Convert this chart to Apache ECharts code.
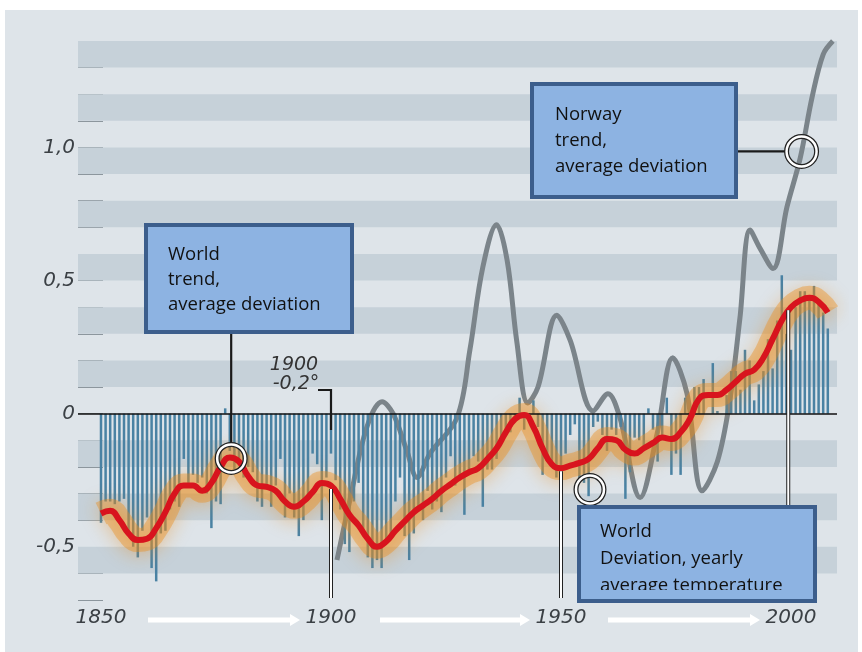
<!DOCTYPE html>
<html><head><meta charset="utf-8">
<script src="https://cdn.jsdelivr.net/npm/echarts@6/dist/echarts.min.js"></script>
<style>html,body{margin:0;padding:0;background:#fff;}#c{width:862px;height:652px;}</style>
</head><body><div id="c"></div>
<script>
// ---- data ----
const devYears = [
1850,1851,1852,1853,1854,1855,1856,1857,1858,1859,
1860,1861,1862,1863,1864,1865,1866,1867,1868,1869,
1870,1871,1872,1873,1874,1875,1876,1877,1878,1879,
1880,1881,1882,1883,1884,1885,1886,1887,1888,1889,
1890,1891,1892,1893,1894,1895,1896,1897,1898,1899,
1900,1901,1902,1903,1904,1905,1906,1907,1908,1909,
1910,1911,1912,1913,1914,1915,1916,1917,1918,1919,
1920,1921,1922,1923,1924,1925,1926,1927,1928,1929,
1930,1931,1932,1933,1934,1935,1936,1937,1938,1939,
1940,1941,1942,1943,1944,1945,1946,1947,1948,1949,
1950,1951,1952,1953,1954,1955,1956,1957,1958,1959,
1960,1961,1962,1963,1964,1965,1966,1967,1968,1969,
1970,1971,1972,1973,1974,1975,1976,1977,1978,1979,
1980,1981,1982,1983,1984,1985,1986,1987,1988,1989,
1990,1991,1992,1993,1994,1995,1996,1997,1998,1999,
2000,2001,2002,2003,2004,2005,2006,2007,2008];
const devValues = [
-0.41,-0.33,-0.33,-0.34,-0.33,-0.32,-0.45,-0.50,-0.54,-0.44,
-0.39,-0.58,-0.63,-0.45,-0.44,-0.36,-0.33,-0.35,-0.17,-0.26,
-0.23,-0.26,-0.24,-0.30,-0.43,-0.33,-0.34,0.02,-0.14,-0.21,
-0.19,-0.24,-0.20,-0.22,-0.33,-0.35,-0.28,-0.35,-0.27,-0.17,
-0.39,-0.30,-0.39,-0.46,-0.40,-0.31,-0.15,-0.19,-0.40,-0.24,
-0.15,-0.25,-0.36,-0.49,-0.52,-0.33,-0.26,-0.46,-0.54,-0.58,
-0.55,-0.58,-0.48,-0.47,-0.33,-0.24,-0.46,-0.55,-0.45,-0.36,
-0.40,-0.29,-0.36,-0.33,-0.37,-0.24,-0.16,-0.27,-0.25,-0.38,
-0.22,-0.16,-0.18,-0.35,-0.21,-0.21,-0.17,-0.10,-0.06,-0.07,
-0.02,0.06,-0.06,-0.02,0.05,-0.05,-0.23,-0.18,-0.20,-0.24,
-0.26,-0.15,-0.08,-0.04,-0.25,-0.26,-0.31,-0.05,-0.03,-0.08,
-0.14,-0.06,-0.08,-0.05,-0.32,-0.22,-0.09,-0.10,-0.13,0.02,
-0.06,-0.18,-0.08,0.06,-0.23,-0.15,-0.23,0.06,-0.02,0.10,
0.10,0.13,0.00,0.19,0.01,0.00,0.07,0.16,0.16,0.09,
0.24,0.20,0.05,0.11,0.16,0.28,0.17,0.35,0.52,0.30,
0.24,0.40,0.46,0.46,0.43,0.48,0.41,0.38,0.32];

const trendYears = [1850,1852,1854,1856,1858,1860,1862,1864,1866,1868,1870,1872,1874,1876,1878,1880,1882,1884,1886,1888,
1890,1892,1894,1896,1898,1900,1902,1904,1906,1908,1910,1912,1914,1916,1918,1920,1922,1924,1926,1928,
1930,1932,1934,1936,1938,1940,1942,1944,1946,1948,1950,1952,1954,1956,1958,1960,1962,1964,1966,1968,
1970,1972,1974,1976,1978,1980,1982,1984,1986,1988,1990,1992,1994,1996,1998,2000,2002,2004,2006,2008];
const trendValues = [-0.375,-0.365,-0.40,-0.45,-0.475,-0.47,-0.43,-0.37,-0.30,-0.27,-0.27,-0.29,-0.26,-0.20,-0.165,-0.18,-0.235,-0.27,-0.275,-0.29,
-0.33,-0.35,-0.33,-0.295,-0.26,-0.27,-0.32,-0.38,-0.42,-0.47,-0.50,-0.48,-0.44,-0.405,-0.37,-0.345,-0.32,-0.29,-0.265,-0.24,
-0.22,-0.205,-0.17,-0.13,-0.07,-0.02,-0.005,-0.05,-0.13,-0.19,-0.205,-0.195,-0.185,-0.17,-0.13,-0.095,-0.10,-0.135,-0.15,-0.13,
-0.11,-0.09,-0.095,-0.07,-0.02,0.055,0.07,0.07,0.09,0.12,0.15,0.165,0.21,0.28,0.35,0.40,0.425,0.435,0.42,0.38];

const norwayYears = [1901.3,1904.1,1907.8,1911.1,1913.5,1916.5,1918.7,1921.5,1927.4,1930.2,1933.0,1936.0,1938.3,1940.4,1942.8,1945.0,
1949.1,1952.0,1957.0,1960.2,1962.8,1967.2,1970.9,1974.3,1977.4,1980.7,1984.0,1986.7,1988.9,1991.1,1993.3,1996.1,1999.1,2002.0,2004.6,2007.0,2009.1];
const norwayValues = [-0.55,-0.325,-0.05,0.045,0.0,-0.14,-0.24,-0.15,-0.015,0.24,0.55,0.71,0.575,0.27,0.04,0.10,
0.37,0.275,0.01,0.075,-0.015,-0.315,-0.075,0.21,0.075,-0.29,-0.18,0.05,0.36,0.69,0.62,0.545,0.775,0.96,1.19,1.35,1.40];

const xTickLabels = [1850,1900,1950,2000];
const yTickLabels = {'10':'1,0','5':'0,5','0':'0','-5':'-0,5'};
const stripeBands = [[1.3,1.4],[1.1,1.2],[0.9,1.0],[0.7,0.8],[0.5,0.6],[0.3,0.4],[0.1,0.2],[-0.2,-0.1],[-0.4,-0.3],[-0.6,-0.5]];

// ---- chart ----
const chart = echarts.init(document.getElementById('c'), null, {renderer:'canvas'});
const pair = (xs, ys) => xs.map((x,i)=>[x, ys[i]]);
const axisFont = {fontFamily:'DejaVu Sans', fontStyle:'italic', fontSize:20, color:'#3b4045'};

chart.setOption({
  backgroundColor:'#dee4e9',
  animation:false,
  grid:{left:78, top:41, width:759, height:559, containLabel:false},
  xAxis:{type:'value', min:1845, max:2010, interval:5,
    axisLine:{show:false}, axisTick:{show:false}, splitLine:{show:false},
    axisLabel:Object.assign({margin:8, formatter:v=>xTickLabels.indexOf(Math.round(v))>=0?String(Math.round(v)):''}, axisFont)},
  yAxis:{type:'value', min:-0.7, max:1.4, interval:0.1,
    axisLine:{show:false}, splitLine:{show:false},
    axisTick:{show:true, inside:true, length:25, lineStyle:{color:'#8c969d', width:1}},
    axisLabel:Object.assign({margin:3, formatter:v=>{const k=String(Math.round(v*10)); return yTickLabels[k]||'';}}, axisFont)},
  series:[
    {type:'line', data:[], z:1, silent:true,
      markArea:{silent:true, itemStyle:{color:'#c6d1d9'}, data:stripeBands.map(b=>[{yAxis:b[0]},{yAxis:b[1]}])}},
    {type:'line', data:pair(norwayYears, norwayValues), smooth:0.35, symbol:'none', z:2,
      lineStyle:{color:'#7b848a', width:5}},
    {type:'bar', data:pair(devYears, devValues), barWidth:2.5, z:3,
      itemStyle:{color:'#4a82a3'},
      markLine:{silent:true, symbol:'none', label:{show:false}, lineStyle:{color:'#111', width:1.5, type:'solid'}, data:[{yAxis:0}]}},
    {type:'line', data:pair(trendYears, trendValues), smooth:0.5, symbol:'none', z:4,
      lineStyle:{color:'rgba(234,140,25,0.4)', width:24, shadowBlur:18, shadowOffsetY:3, shadowColor:'rgba(234,135,20,0.9)'}},
    {type:'line', data:pair(trendYears, trendValues), smooth:0.5, symbol:'none', z:5,
      lineStyle:{color:'#d8141e', width:6}}
  ]
});

const px = (x,y) => chart.convertToPixel({gridIndex:0}, [x,y]);
const boxFill = '#8db3e2', boxStroke = '#3c5e8c';
const txtStyle = {fontFamily:'Open Sans', fontSize:18.5, fill:'#111', textVerticalAlign:'middle'};
function txt(x,y,s){return {type:'text', z:100, style:Object.assign({x:x,y:y,text:s}, txtStyle)};}
function ring(c,r){return [
  {type:'circle', z:90, shape:{cx:c[0],cy:c[1],r:r}, style:{fill:null, stroke:'#222', lineWidth:5}},
  {type:'circle', z:91, shape:{cx:c[0],cy:c[1],r:r}, style:{fill:null, stroke:'#fff', lineWidth:2.5}}];}
function wline(x1,y1,x2,y2){return [
  {type:'line', z:80, shape:{x1:x1,y1:y1,x2:x2,y2:y2}, style:{stroke:'#222', lineWidth:4}},
  {type:'line', z:81, shape:{x1:x1,y1:y1,x2:x2,y2:y2}, style:{stroke:'#fff', lineWidth:2}}];}
function dline(pts){return {type:'polyline', z:82, shape:{points:pts}, style:{stroke:'#1a1a1a', lineWidth:2.2, fill:null}};}
function arrow(x1,x2,y){return [
  {type:'line', z:50, shape:{x1:x1,y1:y,x2:x2-8,y2:y}, style:{stroke:'#fff', lineWidth:5}},
  {type:'polygon', z:50, shape:{points:[[x2-10,y-6],[x2,y],[x2-10,y+6]]}, style:{fill:'#fff'}}];}

const cWorld = px(1878.3, -0.168);
const cNorway = px(2002.3, 0.985);
const cDev = px(1956.3, -0.285);
const p1900 = px(1900, -0.272);
const z1900 = px(1900, 0);
const p1950 = px(1950, -0.205);
const p2000 = px(1999.4, 0.40);

let g = [];
g.push({type:'rect', z:200, shape:{x:0,y:0,width:862,height:10}, style:{fill:'#fff'}});
g.push({type:'rect', z:200, shape:{x:0,y:0,width:5,height:652}, style:{fill:'#fff'}});
g.push({type:'rect', z:200, shape:{x:858,y:0,width:4,height:652}, style:{fill:'#fff'}});
g = g.concat(arrow(148,300,620), arrow(380,530,620), arrow(608,760,620));
g = g.concat(wline(p1900[0], p1900[1]+3, p1900[0], 598));
g = g.concat(wline(p1950[0], p1950[1]+3, p1950[0], 598));
g = g.concat(wline(p2000[0], p2000[1]+3, p2000[0], 507));
g.push(dline([[318,390],[z1900[0],390],[z1900[0],430]]));
g.push({type:'text', z:100, style:{x:294,y:365,text:'1900', fontFamily:'DejaVu Sans', fontStyle:'italic', fontSize:19, fill:'#333', textAlign:'center', textVerticalAlign:'middle'}});
g.push({type:'text', z:100, style:{x:296,y:384,text:'-0,2°', fontFamily:'DejaVu Sans', fontStyle:'italic', fontSize:19, fill:'#333', textAlign:'center', textVerticalAlign:'middle'}});
g.push(dline([[cWorld[0],332],[cWorld[0],cWorld[1]-15]]));
g.push({type:'rect', z:95, shape:{x:146,y:225,width:206,height:107}, style:{fill:boxFill, stroke:boxStroke, lineWidth:4}});
g.push(txt(168,255,'World'), txt(168,280,'trend,'), txt(168,305,'average deviation'));
g = g.concat(ring(cWorld,14));
g.push(dline([[736,cNorway[1]],[cNorway[0]-15,cNorway[1]]]));
g.push({type:'rect', z:95, shape:{x:532,y:84,width:204,height:113}, style:{fill:boxFill, stroke:boxStroke, lineWidth:4}});
g.push(txt(555,115,'Norway'), txt(555,141,'trend,'), txt(555,167,'average deviation'));
g = g.concat(ring(cNorway,15));
g = g.concat(ring(cDev,14));
g.push({type:'rect', z:95, shape:{x:579,y:507,width:236,height:94}, style:{fill:boxFill, stroke:null}});
g.push(txt(600,532,'World'), txt(600,559,'Deviation, yearly'), txt(600,586,'average temperature'));
g.push({type:'rect', z:101, shape:{x:581,y:590,width:232,height:10}, style:{fill:boxFill}});
g.push({type:'rect', z:102, shape:{x:579,y:507,width:236,height:94}, style:{fill:null, stroke:boxStroke, lineWidth:4}});

chart.setOption({graphic:{elements:g}});
</script>
</body></html>
